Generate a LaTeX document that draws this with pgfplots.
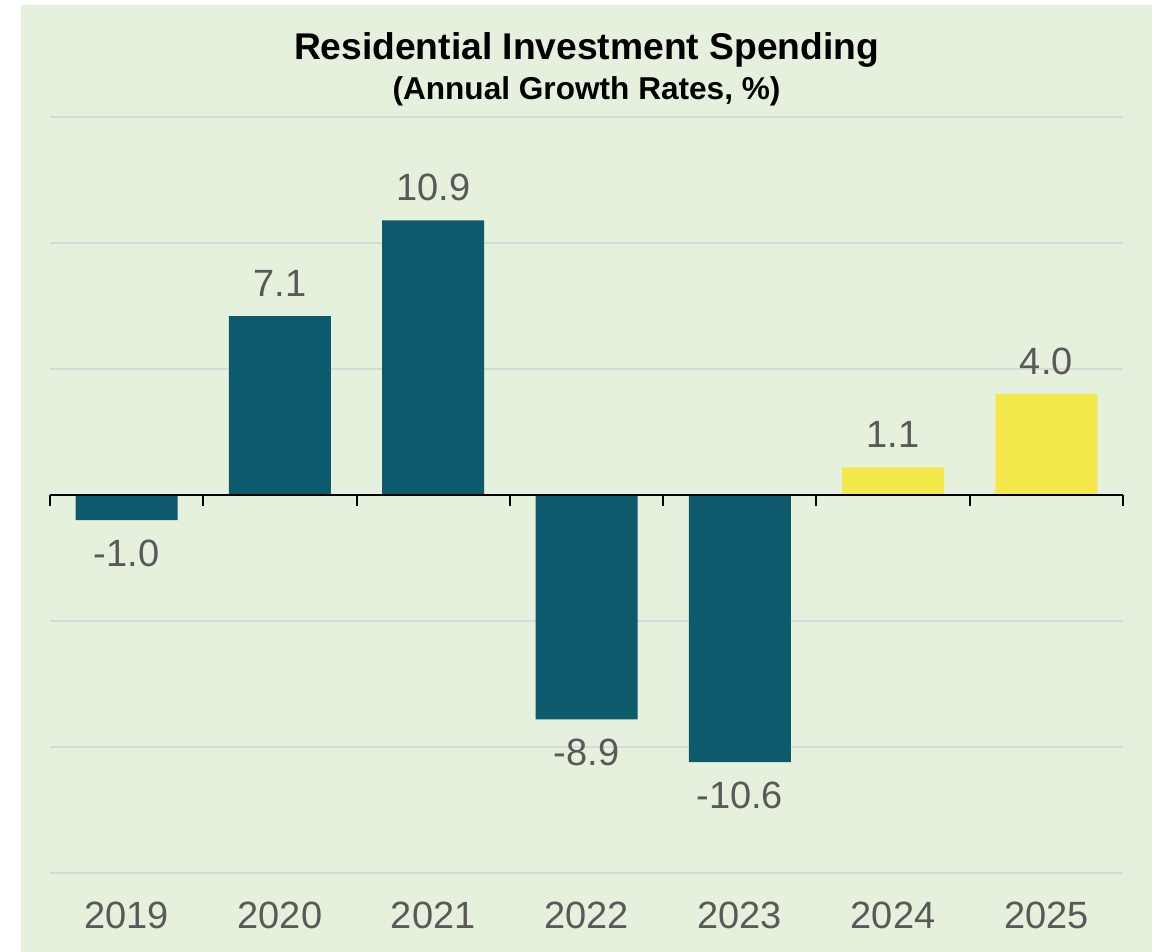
\documentclass[border=0pt]{standalone}
\usepackage{pgfplots}
\pgfplotsset{compat=1.18}
\usepackage{fontspec}
\setmainfont{Liberation Sans}
\definecolor{bgc}{HTML}{E6F1DD}
\definecolor{barteal}{HTML}{0E5A6D}
\definecolor{baryel}{HTML}{F5E84A}
\definecolor{gridc}{HTML}{D9D9D9}
\definecolor{txt}{HTML}{595959}
\begin{document}
\begin{tikzpicture}
\path[use as bounding box] (-25bp,-39.5bp) rectangle (555bp,436.5bp);
\fill[bgc] (-14.5bp,-39.5bp) rectangle (551bp,434bp);
\begin{axis}[at={(0,0)}, anchor=south west, scale only axis,
  width=536.5bp, height=378bp,
  xmin=-0.5, xmax=6.5, ymin=-15, ymax=15,
  ytick={-15,-10,-5,0,5,10,15}, yticklabels={},
  ymajorgrids, grid style={gridc, line width=1bp},
  xtick={0,1,2,3,4,5,6},
  xticklabels={2019,2020,2021,2022,2023,2024,2025},
  axis line style={draw=none}, major tick style={draw=none},
  xticklabel style={anchor=center, yshift=-17bp, font=\fontsize{19bp}{22bp}\selectfont, text=txt},
  ybar, bar width=51bp, bar shift=0pt,
  point meta=explicit symbolic,
  nodes near coords,
  nodes near coords style={font=\fontsize{19bp}{22bp}\selectfont, text=txt},
  clip=false]
\addplot[fill=barteal, draw=none, nodes near coords style={anchor=center, yshift=16.5bp}]
  coordinates {(1,7.1)[7.1] (2,10.9)[10.9]};
\addplot[fill=barteal, draw=none, nodes near coords style={anchor=center, yshift=-16.5bp}]
  coordinates {(0,-1.0)[-1.0] (3,-8.9)[-8.9] (4,-10.6)[-10.6]};
\addplot[fill=baryel, draw=none, nodes near coords style={anchor=center, yshift=16.5bp}]
  coordinates {(5,1.1)[1.1] (6,4.0)[4.0]};
\draw[black, line width=1bp] (axis cs:-0.5,0) -- (axis cs:6.5,0);
\pgfplotsinvokeforeach{-0.5,0.5,...,6.5}{\draw[black, line width=1bp] (axis cs:#1,0) -- ([yshift=-5.5bp]axis cs:#1,0);}
\end{axis}
\node[anchor=base, font=\bfseries\fontsize{18.6bp}{22bp}\selectfont] at (268.25bp,406.5bp) {Residential Investment Spending};
\node[anchor=base, font=\bfseries\fontsize{15.8bp}{19bp}\selectfont] at (268.25bp,386.5bp) {(Annual Growth Rates, \%)};
\end{tikzpicture}
\end{document}
